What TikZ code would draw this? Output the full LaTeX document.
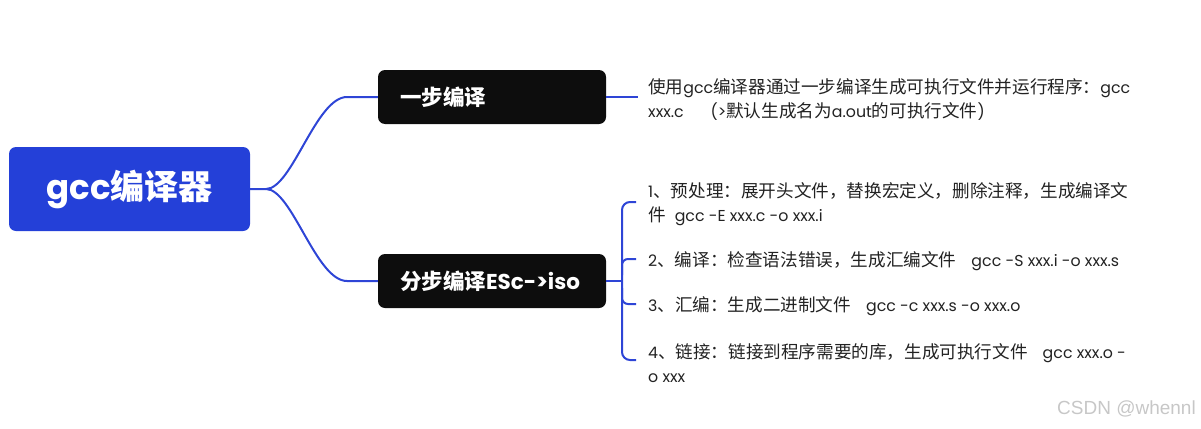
\documentclass[tikz,border=0pt]{standalone}
\usepackage{fontspec}
\setmainfont{Noto Sans CJK SC}
\newfontfamily\wmfont{Liberation Sans}
\newfontfamily\latf{Poppins}
\newcommand{\lt}[1]{{\latf\fontsize{15.8}{24}\selectfont #1}}
\newcommand{\lb}[1]{{\latf\bfseries #1}}
\definecolor{rootblue}{HTML}{2440D8}
\definecolor{linkblue}{HTML}{2E45D6}
\definecolor{boxblack}{HTML}{0D0D0D}
\definecolor{txt}{HTML}{222222}
\begin{document}
\begin{tikzpicture}[x=1pt,y=-1pt,
  rootbox/.style={fill=rootblue,rounded corners=7pt,text=white,font=\fontsize{34}{38}\selectfont\bfseries,minimum width=241pt,minimum height=84pt,inner sep=0pt},
  subbox/.style={fill=boxblack,rounded corners=7pt,text=white,font=\fontsize{21.5}{24}\selectfont\bfseries,minimum height=54pt,inner xsep=22pt,inner ysep=0pt,text width=184pt,align=left},
  leaf/.style={anchor=north west,text=txt,font=\fontsize{17.6}{24}\selectfont,inner sep=0pt,align=left},
  link/.style={draw=linkblue,line width=2pt}]
\useasboundingbox (0,0) rectangle (1201,428);
\node[rootbox] (root) at (129.5,189) {\lb{gcc}编译器};
\node[subbox] (one) at (492,97) {一步编译};
\node[subbox] (two) at (492,281) {分步编译\lb{ESc->iso}};
\coordinate (j) at (266,189);
\draw[link] (root.east) -- (j) .. controls (292,189) and (316,97) .. (347,97) -- (one.west);
\draw[link] (j) .. controls (292,189) and (316,281) .. (347,281) -- (two.west);
% one-step leaf
\coordinate (oe) at (638,97);
\draw[link] (one.east) -- (oe);
\node[leaf] (t0) at (648,78) {使用\lt{gcc}编译器通过一步编译生成可执行文件并运行程序：\lt{gcc}\\\lt{xxx.c\hspace{1.7em}(>}默认生成名为\lt{a.out}的可执行文件\lt{)}};
% multi-step bracket
\coordinate (b0) at (622,281);
\draw[link] (two.east) -- (b0);
\draw[link,rounded corners=8pt] (636,202) -- (622,202) -- (622,360) -- (636,360);
\draw[link,rounded corners=6pt] (636,259) -- (622,259) -- (622,275);
\draw[link,rounded corners=6pt] (636,304) -- (622,304) -- (622,288);
\node[leaf] (t1) at (648,182) {\lt{1}、预处理：展开头文件，替换宏定义，删除注释，生成编译文\\件\hspace{9pt}\lt{gcc -E xxx.c -o xxx.i}};
\node[leaf] (t2) at (648,251) {\lt{2}、编译：检查语法错误，生成汇编文件\hspace{15pt}\lt{gcc -S xxx.i -o xxx.s}};
\node[leaf] (t3) at (648,296) {\lt{3}、汇编：生成二进制文件\hspace{15pt}\lt{gcc -c xxx.s -o xxx.o}};
\node[leaf] (t4) at (648,343) {\lt{4}、链接：链接到程序需要的库，生成可执行文件\hspace{15pt}\lt{gcc xxx.o -}\\\lt{o xxx}};
\node[anchor=east,text=black!22,font=\wmfont\fontsize{19}{21}\selectfont,inner sep=0pt] (wm) at (1196,409) {CSDN @whennl};
\end{tikzpicture}
\end{document}
